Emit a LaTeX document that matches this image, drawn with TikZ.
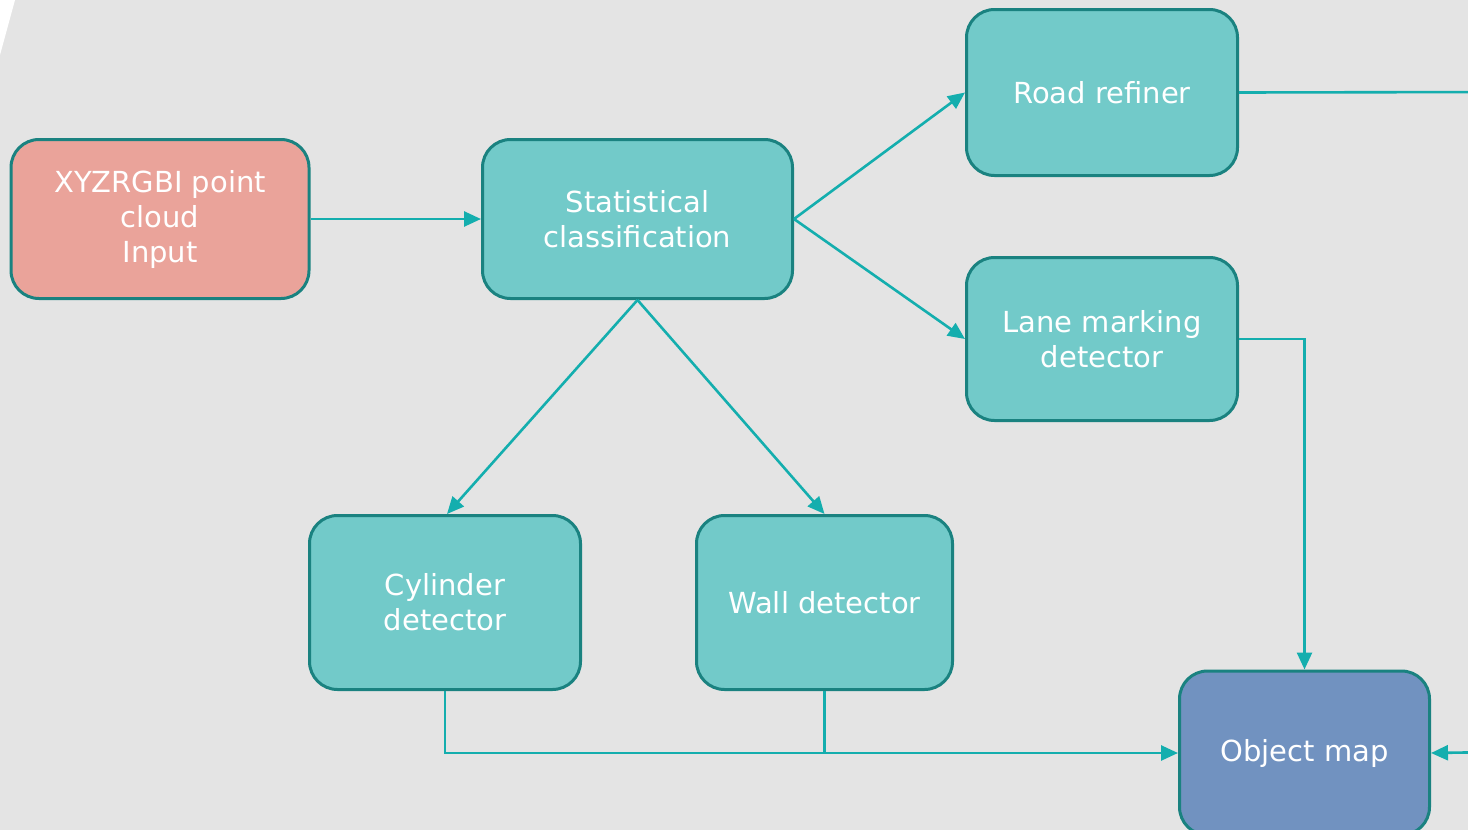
\documentclass[tikz,border=0pt]{standalone}
\usepackage{fontspec}
\setmainfont{DejaVu Sans}
\usetikzlibrary{arrows.meta}
\definecolor{bg}{HTML}{E4E4E4}
\definecolor{tealfill}{HTML}{72CAC9}
\definecolor{tealborder}{HTML}{1A8280}
\definecolor{linecol}{HTML}{14AEAE}
\definecolor{inputfill}{HTML}{EAA39A}
\definecolor{mapfill}{HTML}{7192C0}
\begin{document}
\begin{tikzpicture}[x=1pt,y=-1pt,
  box/.style={draw=tealborder, line width=3pt, rounded corners=28pt, fill=tealfill,
    text=white, align=center, font=\fontsize{29}{35}\selectfont, inner sep=0pt},
  conn/.style={draw=linecol, line width=2.6pt, -{Triangle[length=17pt,width=15pt]}},
  plain/.style={draw=linecol, line width=2.6pt}]
\fill[bg] (0,0) rectangle (1468,830);
\fill[white] (0,0) -- (15,0) -- (0,55) -- cycle;
\clip (0,0) rectangle (1468,830);
\node[box, fill=inputfill, minimum width=298pt, minimum height=159pt] (in) at (160,219) {XYZRGBI point\\cloud\\Input};
\node[box, minimum width=310pt, minimum height=159pt] (stat) at (637.5,219) {Statistical\\classification};
\node[box, minimum width=271pt, minimum height=166pt] (road) at (1102,92.5) {Road refiner};
\node[box, minimum width=271pt, minimum height=163pt] (lane) at (1102,339) {Lane marking\\detector};
\node[box, minimum width=271pt, minimum height=174pt] (cyl) at (445,602.5) {Cylinder\\detector};
\node[box, minimum width=256pt, minimum height=174pt] (wall) at (824.5,602.5) {Wall detector};
\node[box, fill=mapfill, minimum width=250pt, minimum height=164pt] (om) at (1304.5,753) {Object map};
\coordinate (rr) at (1500,92);
\coordinate (rb) at (1500,752);
\draw[conn] (in.east) -- (stat.west);
\draw[conn] (stat.east) -- (road.west);
\draw[conn] (stat.east) -- (lane.west);
\draw[conn] (stat.south) -- ([xshift=2pt]cyl.north);
\draw[conn] (stat.south) -- (wall.north);
\draw[conn] (lane.east) -| (om.north);
\draw[conn] (cyl.south) |- (om.west);
\draw[plain] (wall.south) -- (wall.south |- om.west);
\draw[conn] (road.east) -- (rr) -- (rb) -- (om.east);
\end{tikzpicture}
\end{document}
